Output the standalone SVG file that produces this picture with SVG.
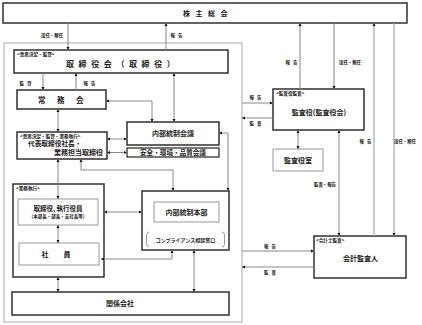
<svg xmlns="http://www.w3.org/2000/svg" width="422" height="325" viewBox="0 0 422 325">
<style>
.blk{fill:#fff;stroke:#222;stroke-width:1.4}
.gry{fill:#fff;stroke:#999;stroke-width:1}
.outer{fill:none;stroke:#aaa;stroke-width:1}
.c{fill:none;stroke:#888;stroke-width:1}
.c2{fill:none;stroke:#aaa;stroke-width:1.2}
text{font-family:"Noto Sans CJK JP","Noto Sans CJK SC",sans-serif;fill:#222;font-weight:bold}
.t{font-size:7px;text-anchor:middle}
.s{font-size:4.6px}
.l{font-size:4.4px;text-anchor:middle}
.sp{letter-spacing:3px}
</style>
<defs>
<marker id="a" viewBox="0 0 6 6" refX="6" refY="3" markerWidth="3.2" markerHeight="3.2" orient="auto-start-reverse" markerUnits="userSpaceOnUse"><path d="M0,0L6,3L0,6z" fill="#111"/></marker>
</defs>
<rect class="outer" x="4" y="43" width="238" height="279"/>
<g id="shareholders">
<rect class="blk" x="3" y="3" width="404" height="20"/>
<text x="183" y="16" style="font-size:7px;letter-spacing:5.5px">株主総会</text>
</g>
<g id="board">
<rect class="blk" x="14" y="50" width="214" height="23"/>
<text class="s" x="17" y="56">&lt;意思決定・監督&gt;</text>
<text x="66" y="66.5" style="font-size:8px;letter-spacing:4.6px">取締役会（取締役）</text>
</g>
<g id="executive-committee">
<rect class="blk" x="17" y="90" width="89" height="19"/>
<text x="38" y="102.5" style="font-size:7.5px;letter-spacing:11.5px">常務会</text>
</g>
<g id="internal-control-meeting">
<rect class="blk" x="127" y="122" width="92" height="23"/>
<text class="t" x="173" y="136">内部統制会議</text>
</g>
<g id="safety-meeting">
<rect class="blk" x="127" y="148" width="92" height="9" style="stroke-width:1.2"/>
<text class="t" x="173" y="155.3" style="font-size:6.6px">安全・環境・品質会議</text>
</g>
<g id="president">
<rect class="blk" x="17" y="132" width="90" height="27"/>
<text class="s" x="20" y="137.5">&lt;意思決定・監督・業務執行&gt;</text>
<text x="28" y="146" style="font-size:6.7px">代表取締役社長・</text>
<text x="103" y="155" style="font-size:7px;text-anchor:end">業務担当取締役</text>
</g>
<g id="business-execution">
<rect class="blk" x="13" y="184" width="91" height="93"/>
<text class="s" x="16" y="190">&lt;業務執行&gt;</text>
</g>
<g id="officers">
<rect class="gry" x="18" y="199" width="80" height="26"/>
<text class="t" x="58" y="210.5" style="font-size:6.5px">取締役, 執行役員</text>
<text class="t" x="58" y="218" style="font-size:4.5px">(本部長・部長・支社長等)</text>
</g>
<g id="employees">
<rect class="gry" x="19" y="243" width="80" height="22"/>
<text x="41.5" y="257" style="font-size:7px;letter-spacing:15px">社員</text>
</g>
<g id="internal-control-hq">
<rect class="blk" x="142" y="191" width="87" height="59"/>
<rect class="gry" x="154" y="202" width="65" height="20"/>
<text class="t" x="186.5" y="214.5">内部統制本部</text>
<path d="M149,232 Q146.5,232 146.5,235 V244 Q146.5,247 149,247 M222,232 Q224.5,232 224.5,235 V244 Q224.5,247 222,247" fill="none" stroke="#888" stroke-width="0.8"/>
<text class="t" x="185.5" y="241.5" style="font-size:5px">コンプライアンス相談窓口</text>
</g>
<g id="affiliates">
<rect class="blk" x="12" y="292" width="217" height="23"/>
<text class="t" x="120" y="306">関係会社</text>
</g>
<g id="auditors">
<rect class="blk" x="273" y="89" width="91" height="41"/>
<text class="s" x="276" y="95">&lt;監査役監査&gt;</text>
<text class="t" x="319" y="114.5">監査役(監査役会)</text>
</g>
<g id="auditors-office">
<rect class="gry" x="273" y="149" width="50" height="22"/>
<text class="t" x="298" y="162.5">監査役室</text>
</g>
<g id="accounting-auditor">
<rect class="blk" x="314" y="236" width="92" height="42"/>
<text class="s" x="316" y="242">&lt;会計士監査&gt;</text>
<text class="t" x="360.5" y="260.5">会計監査人</text>
</g>
<g id="connectors">
<path class="c" d="M68,23V50" marker-end="url(#a)"/>
<path class="c" d="M166,50V23" marker-end="url(#a)"/>
<path class="c" d="M43,73V90" marker-end="url(#a)"/>
<path class="c" d="M76,90V73" marker-end="url(#a)"/>
<path class="c" d="M174,73V122" marker-start="url(#a)" marker-end="url(#a)"/>
<path class="c" d="M106,101H152V122" marker-start="url(#a)" marker-end="url(#a)"/>
<path class="c" d="M58,109V132" marker-start="url(#a)" marker-end="url(#a)"/>
<path class="c" d="M107,139H127" marker-start="url(#a)" marker-end="url(#a)"/>
<path class="c" d="M107,152.5H127" marker-start="url(#a)" marker-end="url(#a)"/>
<path class="c" d="M219,133H228V191" marker-start="url(#a)" marker-end="url(#a)"/>
<path class="c" d="M58,159V199" marker-start="url(#a)" marker-end="url(#a)"/>
<path class="c" d="M81,159V170H173V191" marker-start="url(#a)" marker-end="url(#a)"/>
<path class="c" d="M104,212H142" marker-start="url(#a)" marker-end="url(#a)"/>
<path class="c" d="M58,225V243" marker-start="url(#a)" marker-end="url(#a)"/>
<path class="c" d="M172,250V259H101" marker-start="url(#a)" marker-end="url(#a)"/>
<path class="c" d="M58,277V292" marker-start="url(#a)" marker-end="url(#a)"/>
<path class="c" d="M194,250V292" marker-start="url(#a)" marker-end="url(#a)"/>
<path class="c" d="M242,103H273" marker-end="url(#a)"/>
<path class="c" d="M273,118H242" marker-end="url(#a)"/>
<path class="c" d="M300,89V23" marker-end="url(#a)"/>
<path class="c" d="M334,23V89" marker-end="url(#a)"/>
<path class="c2" d="M374,236V23" marker-end="url(#a)"/>
<path class="c2" d="M394,23V236" marker-end="url(#a)"/>
<path class="c" d="M339,130V236" marker-start="url(#a)" marker-end="url(#a)"/>
<path class="c" d="M298,130V149" marker-start="url(#a)" marker-end="url(#a)"/>
<path class="c" d="M242,251H314" marker-end="url(#a)"/>
<path class="c" d="M314,267H242" marker-end="url(#a)"/>
<text class="l" x="52" y="37">選任・解任</text>
<text class="l sp" x="178" y="37">報告</text>
<text class="l sp" x="27" y="85">監督</text>
<text class="l sp" x="91" y="85">報告</text>
<text class="l sp" x="257" y="99">報告</text>
<text class="l sp" x="257" y="125">監査</text>
<text class="l sp" x="293" y="63.5">報告</text>
<text class="l" x="350" y="63.5">選任・解任</text>
<text class="l sp" x="367" y="142.5">報告</text>
<text class="l" x="405" y="142.5">選任・解任</text>
<text class="l" x="325" y="185.5">監査・報告</text>
<text class="l sp" x="271.5" y="248">報告</text>
<text class="l sp" x="271.5" y="274">監査</text>
</g>
</svg>
